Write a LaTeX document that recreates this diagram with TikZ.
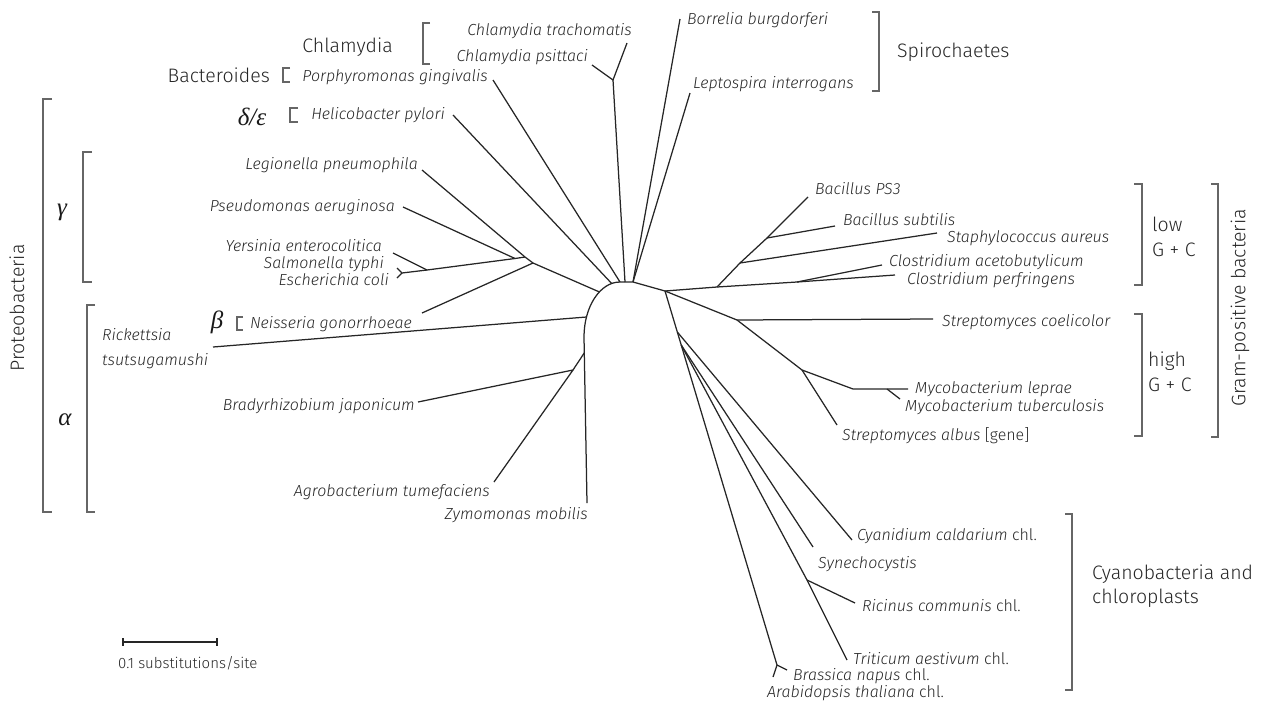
\documentclass[tikz,border=0pt]{standalone}
\usepackage{fontspec}
\setmainfont{Fira Sans Light}[BoldFont={Fira Sans}]
\newfontfamily\gkfont{Liberation Serif}
\begin{document}
\begin{tikzpicture}[x=1pt,y=-1pt,
  tree/.style={line width=1.25pt, draw=black!85, line join=round},
  brk/.style={line width=1.2pt, draw=black!60},
  sp/.style={inner sep=0pt, text=black!85, font=\fontsize{16}{19}\selectfont\itshape},
  grp/.style={inner sep=0pt, text=black!85, font=\fontsize{19.5}{23}\selectfont},
  gk/.style={inner sep=0pt, text=black!90, font=\fontsize{25}{25}\selectfont\gkfont\itshape},
]
\useasboundingbox (0,0) rectangle (1268,702);

% ---------- root arc ----------
\coordinate (Atop) at (620,282);
\coordinate (Achl) at (625,282);
\coordinate (Aspi) at (633,282);
\coordinate (Ahel) at (611.7,283.5);
\coordinate (Agam) at (599.5,292);
\coordinate (Aric) at (586.5,317);
\coordinate (Abot) at (584,337);
\coordinate (Aba) at (584.2,353);
\coordinate (Zt) at (587,503);
\coordinate (R1) at (665,291);
\draw[tree] (R1) -- (Aspi) -- (Atop) .. controls (600.1,282) and (584,306.6) .. (Abot) -- (Zt);

% ---------- top ----------
\coordinate (Chl) at (613,80);
\coordinate (ChTt) at (627,43);
\coordinate (ChPt) at (592,65);
\draw[tree] (ChTt) -- (Chl) -- (ChPt);
\draw[tree] (Chl) -- (Achl);
\coordinate (Port) at (493,80);
\draw[tree] (Port) -- (Atop);
\coordinate (Bort) at (680,19);
\coordinate (Lept) at (690,93);
\draw[tree] (Bort) -- (Aspi);
\draw[tree] (Lept) -- (Aspi);

% ---------- left ----------
\coordinate (Helt) at (453,115);
\draw[tree] (Helt) -- (Ahel);
\coordinate (Legt) at (422,170);
\coordinate (Psdt) at (403,207);
\coordinate (Yert) at (393,253);
\coordinate (Salt) at (397,268);
\coordinate (Ecot) at (397,278);
\coordinate (ES) at (402,273);
\coordinate (YN) at (427,270);
\coordinate (PN) at (515,258.5);
\coordinate (G) at (525,257);
\coordinate (BN) at (533,263);
\coordinate (Neit) at (422,313);
\draw[tree] (Salt) -- (ES) -- (Ecot);
\draw[tree] (ES) -- (YN) -- (PN) -- (G);
\draw[tree] (Yert) -- (YN);
\draw[tree] (Psdt) -- (PN);
\draw[tree] (Legt) -- (G);
\draw[tree] (G) -- (BN) -- (Agam);
\draw[tree] (Neit) -- (BN);
\coordinate (Rict) at (213,347);
\draw[tree] (Rict) -- (Aric);
\coordinate (Brat) at (418,402);
\coordinate (Agrt) at (494,482);
\coordinate (BA) at (573,370);
\draw[tree] (Brat) -- (BA) -- (Agrt);
\draw[tree] (BA) -- (Aba);

% ---------- right: low G+C ----------
\coordinate (L1) at (717,287);
\coordinate (L2) at (797,282);
\coordinate (ClAt) at (882,265);
\coordinate (ClPt) at (895,275);
\coordinate (StN) at (740,263);
\coordinate (BsN) at (767,238);
\coordinate (BPt) at (808,197);
\coordinate (Bst) at (835,226);
\coordinate (Stat) at (937,233);
\draw[tree] (R1) -- (L1) -- (L2) -- (ClPt);
\draw[tree] (L2) -- (ClAt);
\draw[tree] (L1) -- (StN) -- (BsN) -- (BPt);
\draw[tree] (StN) -- (Stat);
\draw[tree] (BsN) -- (Bst);

% ---------- right: high G+C ----------
\coordinate (H1) at (737,320);
\coordinate (H2) at (802,370);
\coordinate (SCt) at (933,319);
\coordinate (M1) at (853,389);
\coordinate (M2) at (887,389);
\coordinate (MLt) at (908,389);
\coordinate (MTt) at (900,399);
\coordinate (SAt) at (837,425);
\draw[tree] (R1) -- (H1) -- (SCt);
\draw[tree] (H1) -- (H2) -- (M1) -- (M2) -- (MLt);
\draw[tree] (M2) -- (MTt);
\draw[tree] (H2) -- (SAt);

% ---------- cyanobacteria ----------
\coordinate (C1) at (677.3,332);
\coordinate (C2) at (681.2,345);
\coordinate (BrN) at (777,665);
\coordinate (Cyt) at (852,540);
\coordinate (Synt) at (813,547);
\coordinate (RN) at (807,580);
\coordinate (Rcot) at (855,603);
\coordinate (Trit) at (847,660);
\coordinate (Bnt) at (787,670);
\coordinate (Att) at (773,677);
\draw[tree] (R1) -- (C1) -- (C2) -- (BrN) -- (Bnt);
\draw[tree] (BrN) -- (Att);
\draw[tree] (C1) -- (Cyt);
\draw[tree] (C2) -- (Synt);
\draw[tree] (C2) -- (RN) -- (Trit);
\draw[tree] (RN) -- (Rcot);

% ---------- species labels ----------
\node[sp, anchor=base east] (lChT) at (632,35) {Chlamydia trachomatis};
\node[sp, anchor=base east] (lChP) at (588,61) {Chlamydia psittaci};
\node[sp, anchor=base east] (lPor) at (488,81) {Porphyromonas gingivalis};
\node[sp, anchor=base west] (lBor) at (687,24) {Borrelia burgdorferi};
\node[sp, anchor=base west] (lLep) at (693,88) {Leptospira interrogans};
\node[sp, anchor=base east] (lHel) at (445,119) {Helicobacter pylori};
\node[sp, anchor=base east] (lLeg) at (418,169) {Legionella pneumophila};
\node[sp, anchor=base east] (lPsd) at (395,211) {Pseudomonas aeruginosa};
\node[sp, anchor=base east] (lYer) at (382,251) {Yersinia enterocolitica};
\node[sp, anchor=base east] (lSal) at (384,268) {Salmonella typhi};
\node[sp, anchor=base east] (lEco) at (389,285) {Escherichia coli};
\node[sp, anchor=base east] (lNei) at (412,328) {Neisseria gonorrhoeae};
\node[sp, anchor=base west] (lRic1) at (102,340) {Rickettsia};
\node[sp, anchor=base west] (lRic2) at (102,365) {tsutsugamushi};
\node[sp, anchor=base east] (lBra) at (415,410) {Bradyrhizobium japonicum};
\node[sp, anchor=base east] (lAgr) at (490,496) {Agrobacterium tumefaciens};
\node[sp, anchor=base east] (lZym) at (588,519) {Zymomonas mobilis};
\node[sp, anchor=base west] (lBPS) at (815,194) {Bacillus PS3};
\node[sp, anchor=base west] (lBsu) at (843,225) {Bacillus subtilis};
\node[sp, anchor=base west] (lSta) at (947,242) {Staphylococcus aureus};
\node[sp, anchor=base west] (lClA) at (889,266) {Clostridium acetobutylicum};
\node[sp, anchor=base west] (lClP) at (907,284) {Clostridium perfringens};
\node[sp, anchor=base west] (lSCo) at (942,326) {Streptomyces coelicolor};
\node[sp, anchor=base west] (lMLe) at (915,393) {Mycobacterium leprae};
\node[sp, anchor=base west] (lMTu) at (905,411) {Mycobacterium tuberculosis};
\node[sp, anchor=base west] (lSAl) at (842,440) {Streptomyces albus \upshape[gene]};
\node[sp, anchor=base west] (lCya) at (857,540) {Cyanidium caldarium \upshape chl.};
\node[sp, anchor=base west] (lSyn) at (818,568) {Synechocystis};
\node[sp, anchor=base west] (lRco) at (862,611) {Ricinus communis \upshape chl.};
\node[sp, anchor=base west] (lTri) at (853,664) {Triticum aestivum \upshape chl.};
\node[sp, anchor=base west] (lBna) at (793,680) {Brassica napus \upshape chl.};
\node[sp, anchor=base west] (lAth) at (767,697) {Arabidopsis thaliana \upshape chl.};

% ---------- group labels and brackets ----------
\node[grp, anchor=base east] (gChl) at (393,52) {Chlamydia};
\draw[brk] (430,23) -| (423,64) -- (430,64);
\node[grp, anchor=base east] (gBac) at (270,82) {Bacteroides};
\draw[brk] (290,68) -| (283,82) -- (290,82);
\node[gk] (gDE) at (252,117) {δ/ε};
\draw[brk] (298,108) -| (290,122) -- (298,122);
\node[gk] (gBe) at (217,322) {β};
\draw[brk] (243,317) -| (237,330) -- (243,330);
\node[gk] (gGa) at (62,212) {γ};
\draw[brk] (92,152) -| (83,282) -- (92,282);
\node[gk] (gAl) at (65,420) {α};
\draw[brk] (95,305) -| (87,512) -- (95,512);
\node[grp, rotate=90] (gPro) at (17,308) {Proteobacteria};
\draw[brk] (52,99) -| (43,512) -- (52,512);

\node[grp, anchor=base west] (gSpi) at (897,57) {Spirochaetes};
\draw[brk] (872,12) -| (879,91) -- (872,91);

\node[grp, anchor=base west] (gLow1) at (1152,231) {low};
\node[grp, anchor=base west] (gLow2) at (1152,256) {G + C};
\draw[brk] (1134,184) -| (1142,285) -- (1134,285);
\node[grp, anchor=base west] (gHi1) at (1148,366) {high};
\node[grp, anchor=base west] (gHi2) at (1148,391) {G + C};
\draw[brk] (1134,314) -| (1142,436) -- (1134,436);
\node[grp, rotate=90] (gGram) at (1240,308) {Gram-positive bacteria};
\draw[brk] (1211,184) -| (1218,437) -- (1211,437);

\node[grp, anchor=base west] (gCy1) at (1092,579) {Cyanobacteria and};
\node[grp, anchor=base west] (gCy2) at (1092,603) {chloroplasts};
\draw[brk] (1065,514) -| (1072,690) -- (1065,690);

% ---------- scale bar ----------
\coordinate (sb1) at (123,642);
\coordinate (sb2) at (217,642);
\draw[tree] (sb1) -- (sb2);
\draw[tree] ([yshift=4pt]sb1) -- ([yshift=-4pt]sb1);
\draw[tree] ([yshift=4pt]sb2) -- ([yshift=-4pt]sb2);
\node[inner sep=0pt, text=black!85, anchor=base west, font=\fontsize{15}{17}\selectfont] (lSB) at (118,668) {0.1 substitutions/site};
\end{tikzpicture}
\end{document}
